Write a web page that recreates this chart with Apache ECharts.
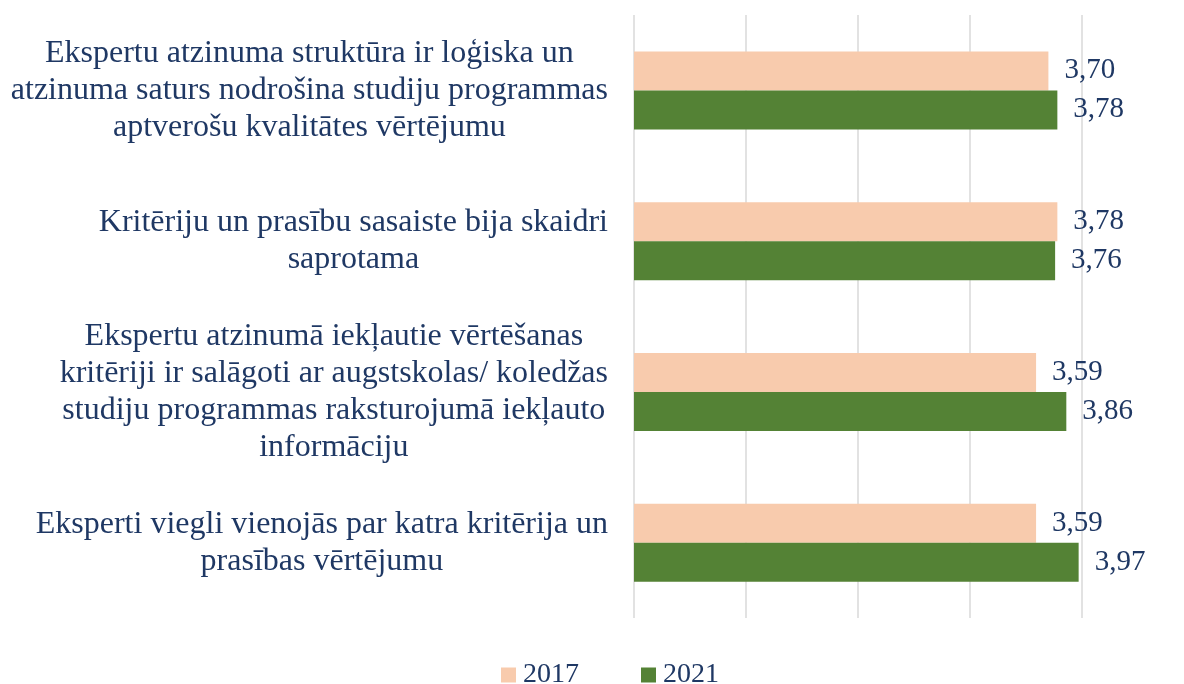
<!DOCTYPE html>
<html>
<head>
<meta charset="utf-8">
<script src="https://cdn.jsdelivr.net/npm/echarts@6/dist/echarts.min.js"></script>
<style>
html,body{margin:0;padding:0;background:#fff;}
#chart{width:1184px;height:684px;}
</style>
</head>
<body>
<div id="chart"></div>
<script>
var categories = [
  "Ekspertu atzinuma struktūra ir loģiska un\natzinuma saturs nodrošina studiju programmas\naptverošu kvalitātes vērtējumu",
  "Kritēriju un prasību sasaiste bija skaidri\nsaprotama",
  "Ekspertu atzinumā iekļautie vērtēšanas\nkritēriji ir salāgoti ar augstskolas/ koledžas\nstudiju programmas raksturojumā iekļauto\ninformāciju",
  "Eksperti viegli vienojās par katra kritērija un\nprasības vērtējumu"
];
var seriesNames = ["2017", "2021"];
var values2017 = [3.70, 3.78, 3.59, 3.59];
var values2021 = [3.78, 3.76, 3.86, 3.97];

var textColor = "#1F3864";
var font = "Liberation Serif";

var chart = echarts.init(document.getElementById('chart'), null, {renderer: 'canvas'});

function labelFmt(p){ return p.value.toFixed(2).replace('.', ','); }
function catFmt(v){
  return v.split('\n').map(function(l){ return '{c|' + l + '}'; }).join('\n');
}

chart.setOption({
  animation: false,
  textStyle: {fontFamily: font},
  grid: {left: 634, right: 102, top: 15, bottom: 66, containLabel: false},
  legend: {
    data: seriesNames,
    left: 496,
    top: 656,
    itemWidth: 15,
    itemHeight: 15,
    itemGap: 62,
    icon: 'rect',
    textStyle: {fontFamily: font, fontSize: 28, color: textColor, padding: [0, 0, 0, 2]}
  },
  xAxis: {
    type: 'value',
    min: 0, max: 4, interval: 1,
    axisLabel: {show: false},
    axisLine: {show: false},
    axisTick: {show: false},
    splitLine: {show: true, lineStyle: {color: '#D9D9D9', width: 1.5}}
  },
  yAxis: {
    type: 'category',
    inverse: true,
    data: categories,
    axisLine: {show: false},
    axisTick: {show: false},
    axisLabel: {
      margin: 26,
      fontFamily: font,
      fontSize: 32,
      lineHeight: 37,
      color: textColor,
      align: 'right',
      formatter: catFmt,
      rich: {
        c: {align: 'center', fontFamily: font, fontSize: 32, lineHeight: 37, color: textColor}
      }
    }
  },
  series: [
    {
      name: seriesNames[0],
      type: 'bar',
      data: values2017,
      barWidth: 39,
      barGap: '0%',
      itemStyle: {color: '#F8CBAD'},
      label: {show: true, position: 'right', distance: 16, formatter: labelFmt,
              fontFamily: font, fontSize: 29, color: textColor}
    },
    {
      name: seriesNames[1],
      type: 'bar',
      data: values2021,
      barWidth: 39,
      barGap: '0%',
      itemStyle: {color: '#548235'},
      label: {show: true, position: 'right', distance: 16, formatter: labelFmt,
              fontFamily: font, fontSize: 29, color: textColor}
    }
  ]
});
</script>
</body>
</html>
